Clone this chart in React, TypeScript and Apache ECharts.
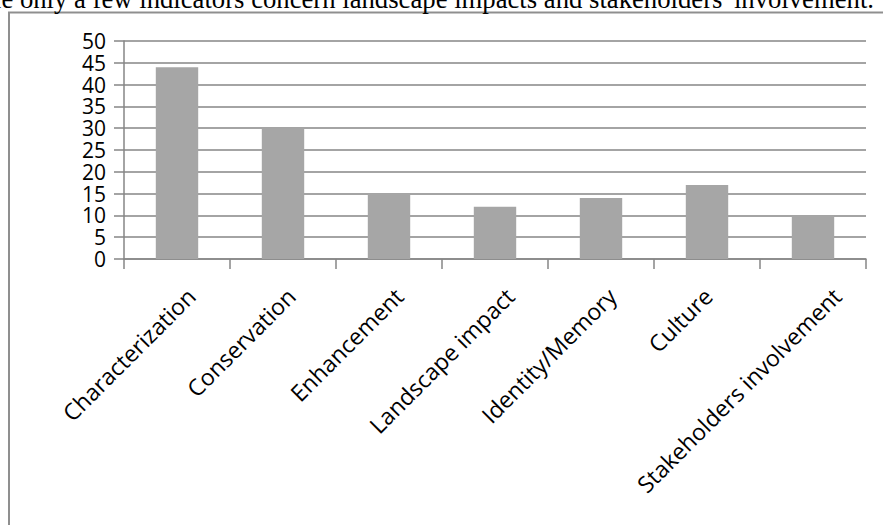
import React, { useEffect, useRef } from "react";
import * as echarts from "echarts";

// ---- data ----
const categories = [
  "Characterization",
  "Conservation",
  "Enhancement",
  "Landscape impact",
  "Identity/Memory",
  "Culture",
  "Stakeholders involvement",
];
const counts = [44, 30, 15, 12, 14, 17, 10];
const yMin = 0;
const yMax = 50;
const yStep = 5;
const caption =
  "while only a few indicators concern landscape impacts and stakeholders' involvement.";

// ---- layout (not data): horizontal shift of each rotated label's end, px ----
const labelShift = [14, 8, 10, 15, 11, 1, 24];

const AXIS_GRAY = "#868686";
const LABEL_FONT = "Open Sans";
const X_FONT_SIZE = 23;
const X_MARGIN = 6;
const X_DROP = 33;

function buildRich() {
  const rich: Record<string, any> = {};
  const sum = 1.414 * (X_DROP - X_MARGIN);
  labelShift.forEach((dx, i) => {
    const diff = 1.414 * dx;
    const b = (sum + diff) / 2;
    const r = Math.max(0, (sum - diff) / 2);
    const pt = Math.max(0, b - X_FONT_SIZE / 2);
    rich["s" + i] = {
      fontFamily: LABEL_FONT,
      fontSize: X_FONT_SIZE,
      color: "#000",
      padding: [pt, r, 0, 0],
    };
  });
  return rich;
}

export default function App() {
  const ref = useRef<HTMLDivElement>(null);

  useEffect(() => {
    if (!ref.current) return;
    const chart = echarts.init(ref.current, undefined, { renderer: "svg" });
    chart.setOption({
      animation: false,
      backgroundColor: "#fff",
      grid: { left: 124, right: 17, top: 41, bottom: 266, containLabel: false },
      xAxis: {
        type: "category",
        data: categories,
        axisLine: { show: true, lineStyle: { color: AXIS_GRAY, width: 1.5 } },
        axisTick: {
          show: true,
          alignWithLabel: false,
          interval: 0,
          length: 10,
          lineStyle: { color: AXIS_GRAY, width: 1.5 },
        },
        axisLabel: {
          interval: 0,
          rotate: 45,
          align: "right",
          verticalAlign: "top",
          margin: X_MARGIN,
          fontFamily: LABEL_FONT,
          fontSize: X_FONT_SIZE,
          color: "#000",
          formatter: (value: string, index: number) => `{s${index}|${value}}`,
          rich: buildRich(),
        },
        splitLine: { show: false },
      },
      yAxis: {
        type: "value",
        min: yMin,
        max: yMax,
        interval: yStep,
        axisLine: { show: true, lineStyle: { color: AXIS_GRAY, width: 1.5 } },
        axisTick: { show: true, length: 10, lineStyle: { color: AXIS_GRAY, width: 1.5 } },
        axisLabel: {
          margin: 18,
          fontFamily: LABEL_FONT,
          fontSize: 21,
          lineHeight: 21,
          color: "#000",
          showMinLabel: true,
          showMaxLabel: true,
          hideOverlap: false,
        },
        splitLine: { show: true, lineStyle: { color: AXIS_GRAY, width: 1.5 } },
      },
      series: [
        {
          type: "bar",
          data: counts,
          barWidth: "40%",
          itemStyle: { color: "#a6a6a6" },
        },
      ],
      graphic: [
        {
          type: "rect",
          shape: { x: 9, y: 12.5, width: 1000, height: 1000 },
          style: { fill: "none", stroke: "#8f8f8f", lineWidth: 2 },
          silent: true,
        },
        {
          type: "text",
          x: 874,
          y: -1,
          style: {
            text: caption,
            align: "right",
            verticalAlign: "middle",
            fontFamily: "Liberation Serif",
            fontSize: 26.7,
            fill: "#000",
          },
          silent: true,
        },
      ],
    });
    return () => chart.dispose();
  }, []);

  return (
    <div
      ref={ref}
      style={{ position: "fixed", left: 0, top: 0, width: 883, height: 525 }}
    />
  );
}
